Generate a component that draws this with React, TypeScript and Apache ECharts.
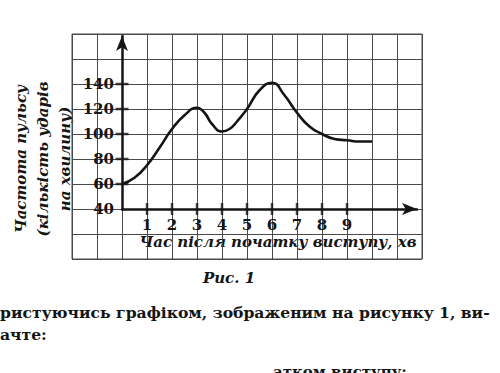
import React, { useEffect, useRef } from 'react';
import * as echarts from 'echarts';

// Time after start of performance, minutes
const minutes = [0, 0.5, 1, 1.5, 2, 2.5, 3, 3.3, 3.6, 4, 4.3, 4.6, 5, 5.5, 6, 6.5, 7, 7.5, 8, 8.5, 9, 9.5, 10];
// Pulse rate, beats per minute
const pulse = [60, 65, 75, 89, 104, 115, 121, 117, 108, 102, 104, 110, 120, 135, 141, 131, 117, 106, 100, 96, 95, 94, 94];

const xTickLabels = [1, 2, 3, 4, 5, 6, 7, 8, 9];
const yTickLabels = [40, 60, 80, 100, 120, 140];

const yTitle = 'Частота пульсу\n(кількість ударів\nна хвилину)';
const xTitle = 'Час після початку виступу, хв';
const figCaption = 'Рис. 1';
const textLine1 = 'ристуючись графіком, зображеним на рисунку 1, ви-';
const textLine2 = 'ачте:';
const textLine3 = 'атком виступу;';

const SERIF = '"DejaVu Serif", "Liberation Serif", serif';
const INK = '#151515';
const GRIDC = '#4a4a4a';

export default function App() {
  const ref = useRef<HTMLDivElement>(null);

  useEffect(() => {
    if (!ref.current) return;
    const chart = echarts.init(ref.current, undefined, { renderer: 'svg' });
    const labelStyle = {
      color: INK,
      fontFamily: SERIF,
      fontWeight: 'bold' as const,
      fontSize: 15,
      lineHeight: 15,
    };
    chart.setOption({
      animation: false,
      backgroundColor: '#ffffff',
      grid: [
        { left: 72, top: 34, width: 350, height: 225, show: true, borderColor: GRIDC, borderWidth: 1, outerBoundsMode: 'none' },
        { left: 122, top: 36, width: 295, height: 173, outerBoundsMode: 'none' },
      ],
      xAxis: [
        {
          type: 'value', gridIndex: 0, min: -2, max: 12, interval: 1,
          axisLine: { show: false }, axisTick: { show: false }, axisLabel: { show: false },
          splitLine: { show: true, lineStyle: { color: GRIDC, width: 1 } },
        },
        {
          type: 'value', gridIndex: 1, min: 0, max: 11.8, interval: 1,
          axisLine: { show: true, onZero: false, symbol: ['none', 'arrow'], symbolSize: [9, 15], lineStyle: { color: INK, width: 2.5 } },
          axisTick: { show: false }, splitLine: { show: false },
          axisLabel: {
            show: true, margin: 8, showMaxLabel: false, showMinLabel: true,
            formatter: (v: number) => (xTickLabels.includes(v) ? String(v) : ''),
            ...labelStyle,
          },
        },
      ],
      yAxis: [
        {
          type: 'value', gridIndex: 0, min: 0, max: 180, interval: 20,
          axisLine: { show: false }, axisTick: { show: false }, axisLabel: { show: false },
          splitLine: { show: true, lineStyle: { color: GRIDC, width: 1 } },
        },
        {
          type: 'value', gridIndex: 1, min: 40, max: 178.4, interval: 20,
          axisLine: { show: true, onZero: false, symbol: ['none', 'arrow'], symbolSize: [9, 15], lineStyle: { color: INK, width: 2.5 } },
          axisTick: { show: false }, splitLine: { show: false },
          axisLabel: {
            show: true, margin: 8, showMaxLabel: false,
            formatter: (v: number) => (yTickLabels.includes(v) ? String(v) : ''),
            ...labelStyle,
          },
        },
      ],
      series: [
        {
          type: 'scatter', xAxisIndex: 1, yAxisIndex: 1, silent: true,
          symbol: 'rect', symbolSize: [2.5, 12],
          itemStyle: { color: INK },
          data: xTickLabels.map((v) => [v, yTickLabels[0]]),
        },
        {
          type: 'scatter', xAxisIndex: 1, yAxisIndex: 1, silent: true,
          symbol: 'rect', symbolSize: [13, 2.5],
          itemStyle: { color: INK },
          data: yTickLabels.slice(1).map((v) => [0, v]),
        },
        {
          type: 'line', xAxisIndex: 1, yAxisIndex: 1, silent: true,
          smooth: 0.5, symbol: 'none',
          lineStyle: { color: INK, width: 2.6 },
          data: minutes.map((m, i) => [m, pulse[i]]),
          z: 5,
        },
      ],
      graphic: [
        {
          type: 'text', x: 43, y: 159, rotation: Math.PI / 2,
          style: { text: yTitle, font: `italic bold 15px ${SERIF}`, align: 'center', verticalAlign: 'middle', lineHeight: 22, fill: INK },
        },
        {
          type: 'text', x: 278, y: 242,
          style: { text: xTitle, font: `italic bold 15px ${SERIF}`, align: 'center', verticalAlign: 'middle', fill: INK },
        },
        {
          type: 'text', x: 229, y: 278,
          style: { text: figCaption, font: `italic bold 15px ${SERIF}`, align: 'center', verticalAlign: 'middle', fill: INK },
        },
        {
          type: 'text', x: 0, y: 312,
          style: { text: textLine1, font: `bold 15.6px ${SERIF}`, align: 'left', verticalAlign: 'middle', fill: INK },
        },
        {
          type: 'text', x: 0, y: 334,
          style: { text: textLine2, font: `bold 15.6px ${SERIF}`, align: 'left', verticalAlign: 'middle', fill: INK },
        },
        {
          type: 'text', x: 273, y: 364,
          style: { text: textLine3, font: `bold 15px ${SERIF}`, align: 'left', verticalAlign: 'top', fill: INK },
        },
      ],
    });
    return () => chart.dispose();
  }, []);

  return <div ref={ref} style={{ position: 'fixed', left: 0, top: 0, width: 500, height: 373 }} />;
}
